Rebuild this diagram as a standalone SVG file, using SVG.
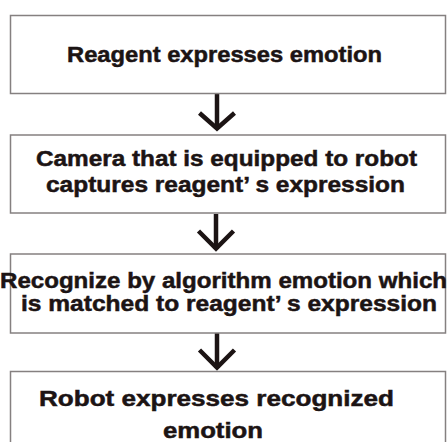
<svg xmlns="http://www.w3.org/2000/svg" width="447" height="442" viewBox="0 0 447 442">
<style>
.box{fill:#ffffff;stroke:#858080;stroke-width:1.5}
.t{font-family:"Liberation Sans",Arial,sans-serif;font-weight:bold;font-size:22px;fill:#1c1414;stroke:#1c1414;stroke-width:0.5}
.ar{fill:none;stroke:#1c1414;stroke-width:4.5;stroke-linejoin:miter}
</style>
<rect x="0" y="0" width="447" height="442" fill="#ffffff"/>
<g id="connectors">
<g id="arrow1"><line class="ar" x1="217" y1="94" x2="217" y2="128"/><polyline class="ar" points="199.5,113 217,128.5 234.5,113"/></g>
<g id="arrow2"><line class="ar" x1="216" y1="214" x2="216" y2="248"/><polyline class="ar" points="198.5,231 216,248.5 233.5,231"/></g>
<g id="arrow3"><line class="ar" x1="217" y1="333" x2="217" y2="367"/><polyline class="ar" points="199.5,350 217,367.5 234.5,350"/></g>
</g>
<g id="node1">
<rect class="box" x="10.5" y="15.5" width="435" height="78"/>
<text class="t" x="67" y="62" textLength="315" lengthAdjust="spacingAndGlyphs">Reagent expresses emotion</text>
</g>
<g id="node2">
<rect class="box" x="10.5" y="135" width="435" height="78"/>
<text class="t" x="36" y="166" textLength="381" lengthAdjust="spacingAndGlyphs">Camera that is equipped to robot</text>
<text class="t" x="46" y="192" textLength="359" lengthAdjust="spacingAndGlyphs">captures reagent’ s expression</text>
</g>
<g id="node3">
<rect class="box" x="10.5" y="254" width="435" height="79"/>
<text class="t" x="0" y="288" textLength="447" lengthAdjust="spacingAndGlyphs">Recognize by algorithm emotion which</text>
<text class="t" x="21" y="311" textLength="416" lengthAdjust="spacingAndGlyphs">is matched to reagent’ s expression</text>
</g>
<g id="node4">
<rect class="box" x="10.5" y="371.5" width="435" height="80"/>
<text class="t" x="39" y="406" textLength="355" lengthAdjust="spacingAndGlyphs">Robot expresses recognized</text>
<text class="t" x="163" y="438" textLength="100" lengthAdjust="spacingAndGlyphs">emotion</text>
</g>
</svg>
